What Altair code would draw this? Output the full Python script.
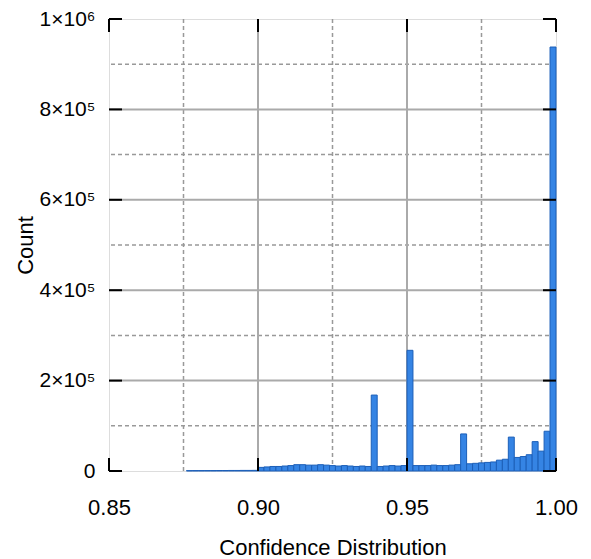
import altair as alt
import pandas as pd

# histogram bins (left edges), bin width 0.002
bin_width = 0.002
bin_starts = [0.876, 0.878, 0.880, 0.882, 0.884, 0.886, 0.888, 0.890, 0.892, 0.894, 0.896, 0.898,
              0.900, 0.902, 0.904, 0.906, 0.908, 0.910, 0.912, 0.914, 0.916, 0.918,
              0.920, 0.922, 0.924, 0.926, 0.928, 0.930, 0.932, 0.934, 0.936, 0.938,
              0.940, 0.942, 0.944, 0.946, 0.948, 0.950, 0.952, 0.954, 0.956, 0.958,
              0.960, 0.962, 0.964, 0.966, 0.968, 0.970, 0.972, 0.974, 0.976, 0.978,
              0.980, 0.982, 0.984, 0.986, 0.988, 0.990, 0.992, 0.994, 0.996, 0.998]
counts = [800, 900, 900, 1000, 1000, 1100, 1100, 1200, 1200, 1300, 1300, 1400,
          8000, 9000, 10000, 10000, 11000, 12000, 14000, 14000, 13000, 13000,
          14000, 13000, 12000, 11000, 12000, 11000, 10000, 11000, 10000, 168000,
          10000, 11000, 12000, 11000, 12000, 267000, 12000, 12000, 12000, 13000,
          12000, 12000, 13000, 14000, 82000, 16000, 17000, 18000, 19000, 20000,
          24000, 26000, 75000, 30000, 32000, 36000, 65000, 44000, 88000, 938000]

x_major = [0.85, 0.90, 0.95, 1.00]
x_minor = [0.875, 0.925, 0.975]
y_major = [0, 200000, 400000, 600000, 800000, 1000000]
y_minor = [100000, 300000, 500000, 700000, 900000]
y_labels = ["0", "2×10⁵", "4×10⁵", "6×10⁵", "8×10⁵", "1×10⁶"]

W, H = 447, 452
FONT = "Liberation Sans"
FS = 22

bars_df = pd.DataFrame({"start": bin_starts,
                        "end": [round(s + bin_width, 3) for s in bin_starts],
                        "count": counts,
                        "base": [0] * len(counts)})

xs = alt.Scale(domain=[0.85, 1.0], nice=False, zero=False)
ys = alt.Scale(domain=[0, 1000000], nice=False)

label_expr = " : ".join(
    [f"datum.value == {v} ? '{l}'" for v, l in zip(y_major, y_labels)] + ["''"])

# grid lines
vmaj = alt.Chart(pd.DataFrame({"x": x_major[1:-1]})).mark_rule(
    color="#aaaaaa", strokeWidth=2).encode(x=alt.X("x:Q", scale=xs))
vmin = alt.Chart(pd.DataFrame({"x": x_minor})).mark_rule(
    color="#999999", strokeWidth=1.5, strokeDash=[4, 3]).encode(x=alt.X("x:Q", scale=xs))
hmaj = alt.Chart(pd.DataFrame({"y": y_major[1:-1]})).mark_rule(
    color="#aaaaaa", strokeWidth=2).encode(y=alt.Y("y:Q", scale=ys))
hmin = alt.Chart(pd.DataFrame({"y": y_minor})).mark_rule(
    color="#999999", strokeWidth=1.5, strokeDash=[4, 3]).encode(y=alt.Y("y:Q", scale=ys))

bars = alt.Chart(bars_df).mark_bar(
    fill="#3584e4", stroke="#1c5fb8", strokeWidth=1, opacity=1).encode(
    x=alt.X("start:Q", scale=xs,
            axis=alt.Axis(values=x_major, format=".2f", title="Confidence Distribution",
                          grid=False, domain=False, ticks=False, labelPadding=26,
                          labelFlush=False,
                          titleY=76, titleBaseline="middle",
                          labelFontSize=FS, titleFontSize=FS,
                          labelFont=FONT, titleFont=FONT, titleFontWeight="normal",
                          labelColor="#000", titleColor="#000")),
    x2="end:Q",
    y=alt.Y("count:Q", scale=ys,
            axis=alt.Axis(values=y_major, labelExpr=label_expr, title="Count",
                          grid=False, domain=False, ticks=False, labelPadding=14,
                          labelFlush=False,
                          titleX=-84, titleY=H / 2, titleAngle=270,
                          titleAlign="center", titleBaseline="middle",
                          labelFontSize=21, titleFontSize=FS,
                          labelFont=FONT, titleFont=FONT, titleFontWeight="normal",
                          labelColor="#000", titleColor="#000")),
    y2="base:Q",
)

# inward ticks (bottom/top for x, left/right for y)
TL = 13
xt_bottom = alt.Chart(pd.DataFrame({"x": x_major})).mark_rule(color="#000", strokeWidth=2).encode(
    x=alt.X("x:Q", scale=xs), y=alt.value(H), y2=alt.value(H - TL))
xt_top = alt.Chart(pd.DataFrame({"x": x_major})).mark_rule(color="#000", strokeWidth=2).encode(
    x=alt.X("x:Q", scale=xs), y=alt.value(0), y2=alt.value(TL))
yt_left = alt.Chart(pd.DataFrame({"y": y_major})).mark_rule(color="#000", strokeWidth=2).encode(
    y=alt.Y("y:Q", scale=ys), x=alt.value(0), x2=alt.value(TL))
yt_right = alt.Chart(pd.DataFrame({"y": y_major})).mark_rule(color="#000", strokeWidth=2).encode(
    y=alt.Y("y:Q", scale=ys), x=alt.value(W), x2=alt.value(W - TL))

chart = alt.layer(vmin, hmin, vmaj, hmaj, bars, xt_bottom, xt_top, yt_left, yt_right).properties(
    width=W, height=H,
    autosize=alt.AutoSizeParams(type="none"),
    padding={"left": 101, "top": 11, "right": 27, "bottom": 88},
).configure_view(stroke="#666666", strokeWidth=2).configure(background="white")

chart.save("out.html", embed_options={"renderer": "svg", "actions": False})
